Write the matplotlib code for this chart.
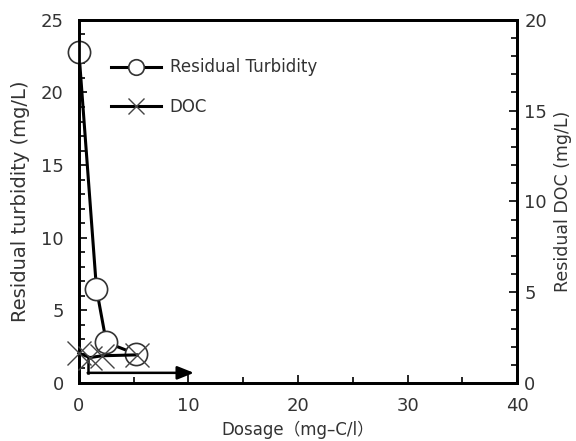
import matplotlib
matplotlib.use("Agg")
import matplotlib.pyplot as plt
from matplotlib.ticker import MultipleLocator

plt.rcParams['font.family'] = ['DejaVu Sans', 'Noto Sans CJK JP']

# Data
dosage_turb = [0.0, 1.6, 2.5, 5.2]
turbidity = [22.8, 6.5, 2.8, 2.0]
dosage_doc = [0.0, 1.0, 2.1, 5.3]
doc = [1.65, 1.4, 1.5, 1.55]
arrow_x = [0.8, 0.8, 10.5]
arrow_y = [1.8, 0.7, 0.7]

fig = plt.figure(figsize=(5.76, 4.41), dpi=100)
ax = fig.add_axes([0.137, 0.1315, 0.761, 0.8235])
ax2 = ax.twinx()

lw = 2.2
ax.plot(dosage_turb, turbidity, '-', color='black', lw=lw, marker='o', ms=16,
        mfc='white', mec='#333333', mew=1.2, zorder=5, clip_on=False,
        label='Residual Turbidity')
ax2.plot(dosage_doc, doc, '-', color='black', lw=lw, marker='x', ms=17,
         mec='#444444', mew=1.0, zorder=4, clip_on=False)
# legend proxy for DOC
ax.plot([], [], '-', color='black', lw=lw, marker='x', ms=17, mec='#444444',
        mew=1.0, label='DOC')

# arrow annotation
ax.plot(arrow_x[:2], arrow_y[:2], color='black', lw=1.8)
ax.annotate('', xy=(arrow_x[2], arrow_y[2]), xytext=(arrow_x[1], arrow_y[1]),
            arrowprops=dict(arrowstyle='-|>,head_length=1.0,head_width=0.4',
                            color='black', lw=1.8, shrinkA=0, shrinkB=0))

ax.set_xlim(0, 40)
ax.set_ylim(0, 25)
ax2.set_ylim(0, 20)

ax.xaxis.set_major_locator(MultipleLocator(10))
ax.xaxis.set_minor_locator(MultipleLocator(5))
ax.yaxis.set_major_locator(MultipleLocator(5))
ax.yaxis.set_minor_locator(MultipleLocator(1))
ax2.yaxis.set_major_locator(MultipleLocator(5))
ax2.yaxis.set_minor_locator(MultipleLocator(1))

for a in (ax, ax2):
    for s in a.spines.values():
        s.set_linewidth(2.0)
    a.tick_params(which='both', direction='in', width=1.2, labelsize=13,
                  labelcolor='#333333')
    a.tick_params(which='major', length=6)
    a.tick_params(which='minor', length=4)
ax.tick_params(axis='x', pad=10)
ax.tick_params(axis='y', pad=11)
ax2.tick_params(axis='y', pad=5)

ax.set_xlabel('Dosage（mg–C/l）', fontsize=12, color='#333333', labelpad=4)
ax.set_ylabel('Residual turbidity (mg/L)', fontsize=14, color='#333333', labelpad=8)
ax2.set_ylabel('Residual DOC (mg/L)', fontsize=12.5, color='#333333', labelpad=5)

leg = ax.legend(loc='upper left', bbox_to_anchor=(0.04, 0.935), frameon=False,
                fontsize=12, handlelength=3.0, handletextpad=0.5,
                labelspacing=1.3, markerscale=0.7)
for t in leg.get_texts():
    t.set_color('#333333')

fig.savefig('out.png', dpi=100)
